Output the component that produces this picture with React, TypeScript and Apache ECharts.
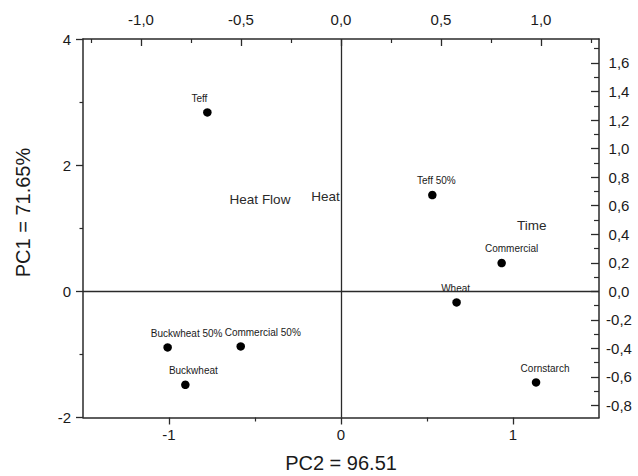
import React, { useEffect, useRef } from "react";
import * as echarts from "echarts";

// Sample scores (bottom axis PC2, left axis PC1)
const sampleNames = ["Teff", "Teff 50%", "Commercial", "Wheat", "Cornstarch", "Buckwheat 50%", "Commercial 50%", "Buckwheat"];
const sampleX = [-0.777, 0.531, 0.934, 0.672, 1.134, -1.008, -0.583, -0.905];
const sampleY = [2.836, 1.527, 0.449, -0.176, -1.444, -0.889, -0.873, -1.481];
// Horizontal label shift per sample (style only)
const sampleLabelDx = [-8, 4, 10, -1, 9, 19, 22, 8];

// Variable loadings (top axis, right axis)
const loadingNames = ["Heat Flow", "Heat", "Time"];
const loadingX = [-0.405, -0.077, 0.954];
const loadingY = [0.643, 0.666, 0.462];

// Tick values
const bottomTicks = [-1, 0, 1];
const bottomMinorTicks = [-0.5, 0.5];
const topTicks = [-1, -0.5, 0, 0.5, 1];
const topMinorTicks = [-1.25, -0.75, -0.25, 0.25, 0.75, 1.25];
const leftTicks = [-2, 0, 2, 4];
const leftMinorTicks = [-1, 1, 3];
const rightTicks = [-0.8, -0.6, -0.4, -0.2, 0, 0.2, 0.4, 0.6, 0.8, 1.0, 1.2, 1.4, 1.6];
const rightMinorTicks = [-0.7, -0.5, -0.3, -0.1, 0.1, 0.3, 0.5, 0.7, 0.9, 1.1, 1.3, 1.5, 1.7];

const axisNameX = "PC2 = 96.51";
const axisNameY = "PC1 = 71.65%";

const FONT = "'Liberation Sans', Arial, Helvetica, sans-serif";
const INK = "#1a1a1a";
const LINE = "#2a2a2a";

const comma = (v: number) => v.toFixed(1).replace(".", ",").replace("-0,0", "0,0");

export default function App() {
  const ref = useRef<HTMLDivElement>(null);
  useEffect(() => {
    if (!ref.current) return;
    const chart = echarts.init(ref.current, undefined, { renderer: "svg" });

    const axisLine = { show: true, onZero: false, lineStyle: { color: LINE, width: 1.5 } };
    const hiddenLine = { show: false, onZero: false };
    const labelStyle = { color: INK, fontSize: 15, fontFamily: FONT };

    const option: any = {
      animation: false,
      backgroundColor: "#fff",
      grid: { left: 83, right: 39, top: 39, bottom: 58.5, containLabel: false },
      xAxis: [
        {
          type: "value", position: "bottom", min: -1.5, max: 1.5,
          axisLine, splitLine: { show: false },
          axisTick: { show: true, inside: false, length: 7, customValues: bottomTicks, lineStyle: { color: LINE, width: 1.3 } },
          axisLabel: { ...labelStyle, margin: 9, customValues: bottomTicks, formatter: (v: number) => String(Math.round(v)) },
        },
        {
          type: "value", position: "top", min: -1.29, max: 1.29,
          axisLine, splitLine: { show: false },
          axisTick: { show: true, inside: true, length: 7, customValues: topTicks, lineStyle: { color: LINE, width: 1.3 } },
          axisLabel: { ...labelStyle, margin: 12, customValues: topTicks, formatter: comma },
        },
        {
          type: "value", position: "bottom", min: -1.5, max: 1.5,
          axisLine: hiddenLine, splitLine: { show: false }, axisLabel: { show: false },
          axisTick: { show: true, inside: false, length: 4, customValues: bottomMinorTicks, lineStyle: { color: LINE, width: 1.2 } },
        },
        {
          type: "value", position: "top", min: -1.29, max: 1.29,
          axisLine: hiddenLine, splitLine: { show: false }, axisLabel: { show: false },
          axisTick: { show: true, inside: true, length: 4, customValues: topMinorTicks, lineStyle: { color: LINE, width: 1.2 } },
        },
      ],
      yAxis: [
        {
          type: "value", position: "left", min: -2, max: 4,
          axisLine, splitLine: { show: false },
          axisTick: { show: true, inside: false, length: 7, customValues: leftTicks, lineStyle: { color: LINE, width: 1.3 } },
          axisLabel: { ...labelStyle, margin: 12, customValues: leftTicks, formatter: (v: number) => String(Math.round(v)) },
        },
        {
          type: "value", position: "right", min: -0.884, max: 1.768,
          axisLine, splitLine: { show: false },
          axisTick: { show: true, inside: true, length: 8, customValues: rightTicks, lineStyle: { color: LINE, width: 1.3 } },
          axisLabel: { ...labelStyle, margin: 20, align: "center", customValues: rightTicks, formatter: comma },
        },
        {
          type: "value", position: "left", min: -2, max: 4,
          axisLine: hiddenLine, splitLine: { show: false }, axisLabel: { show: false },
          axisTick: { show: true, inside: false, length: 3.5, customValues: leftMinorTicks, lineStyle: { color: LINE, width: 1.2 } },
        },
        {
          type: "value", position: "right", min: -0.884, max: 1.768,
          axisLine: hiddenLine, splitLine: { show: false }, axisLabel: { show: false },
          axisTick: { show: true, inside: true, length: 5, customValues: rightMinorTicks, lineStyle: { color: LINE, width: 1.2 } },
        },
      ],
      graphic: [
        {
          type: "text", x: 22.5, y: 212.5, rotation: Math.PI / 2,
          style: { text: axisNameY, fill: INK, font: `20px ${FONT}`, align: "center", verticalAlign: "middle" },
        },
        {
          type: "text", x: 341, y: 463,
          style: { text: axisNameX, fill: INK, font: `20px ${FONT}`, align: "center", verticalAlign: "middle" },
        },
      ],
      series: [
        {
          type: "scatter", xAxisIndex: 0, yAxisIndex: 0,
          symbol: "circle", symbolSize: 8.5,
          itemStyle: { color: "#000", opacity: 1 },
          label: {
            show: true, position: "top", distance: 5, formatter: "{b}",
            color: INK, fontSize: 10, fontFamily: FONT,
          },
          data: sampleNames.map((n, i) => ({
            name: n,
            value: [sampleX[i], sampleY[i]],
            label: { offset: [sampleLabelDx[i], 0] },
          })),
          markLine: {
            silent: true, symbol: ["none", "none"], animation: false,
            label: { show: false },
            lineStyle: { color: LINE, width: 1.3, type: "solid", opacity: 1 },
            data: [{ xAxis: 0 }, { yAxis: 0 }],
          },
        },
        {
          type: "scatter", xAxisIndex: 1, yAxisIndex: 1,
          symbolSize: 0, silent: true,
          itemStyle: { color: "#222", opacity: 1 },
          label: {
            show: true, position: "inside", formatter: "{b}",
            color: "#2a2a2a", fontSize: 13.5, fontFamily: FONT,
          },
          data: loadingNames.map((n, i) => ({ name: n, value: [loadingX[i], loadingY[i]] })),
        },
      ],
    };

    chart.setOption(option);
    return () => chart.dispose();
  }, []);

  return (
    <div
      ref={ref}
      style={{ position: "fixed", left: 0, top: 0, width: 638, height: 476, background: "#fff" }}
    />
  );
}
